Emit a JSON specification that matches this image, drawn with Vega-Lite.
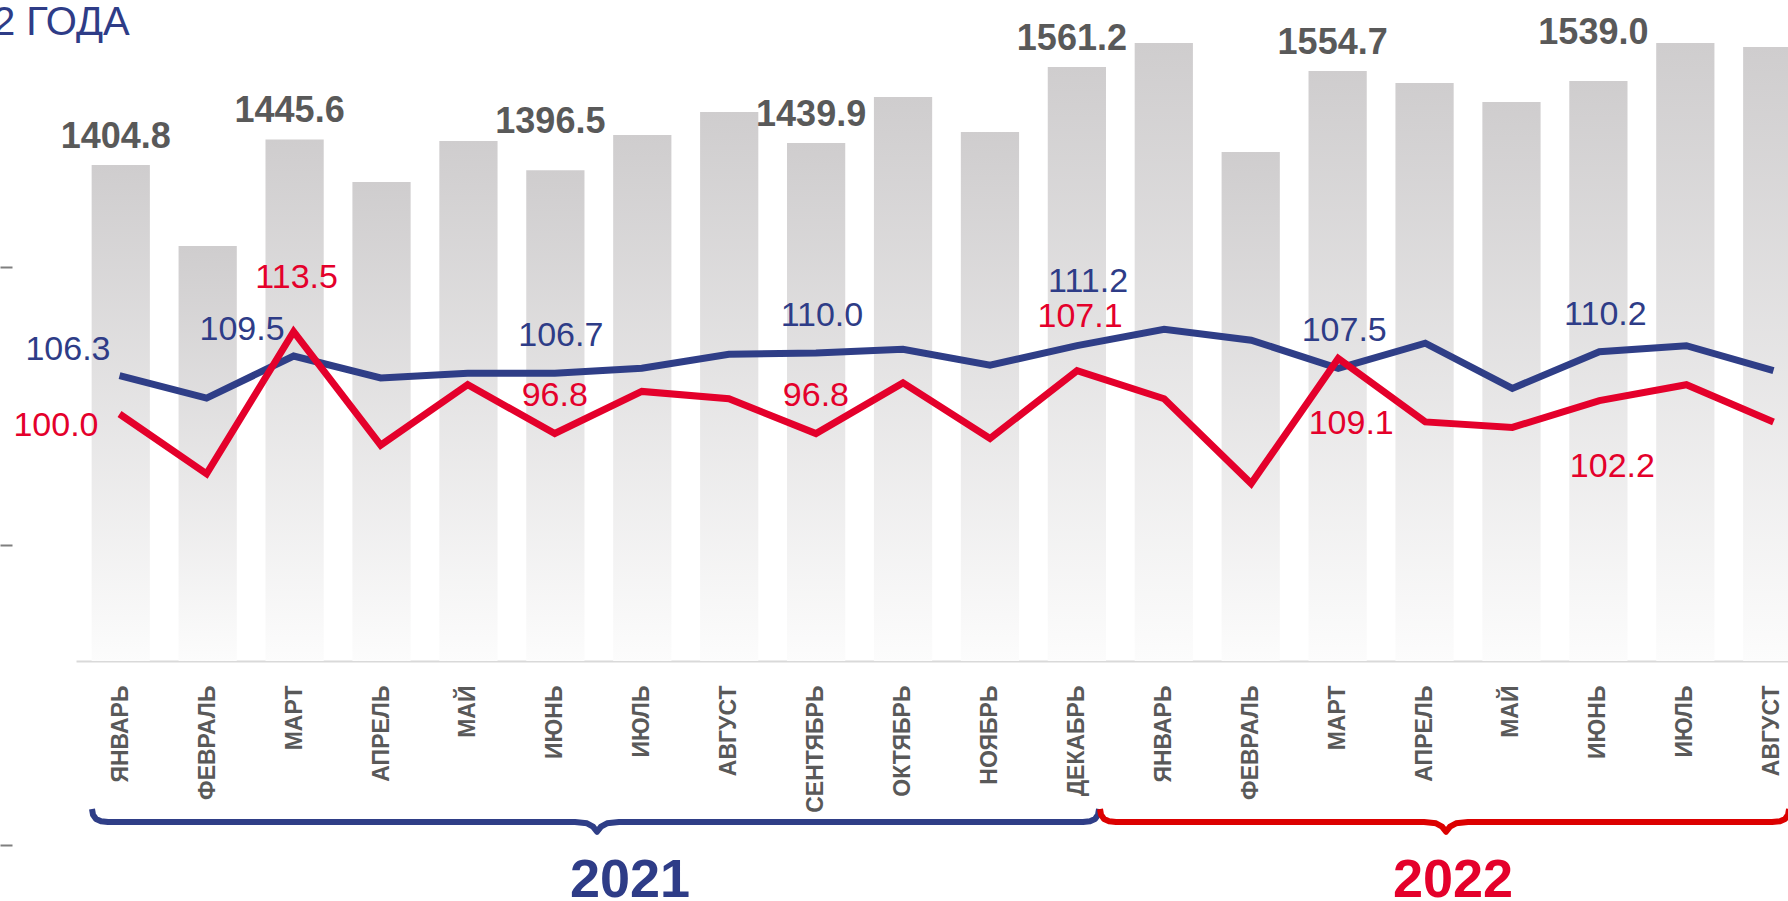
{
  "$schema": "https://vega.github.io/schema/vega-lite/v6.json",
  "autosize": {"type": "none"},
  "width": 1712,
  "height": 621,
  "padding": {"left": 76, "top": 40, "right": 0, "bottom": 240},
  "background": "white",
  "title": {"text": "2 ГОДА", "anchor": "start", "frame": "group", "dx": -83, "offset": -60, "baseline": "alphabetic", "font": "Liberation Sans", "fontSize": 40, "fontWeight": "normal", "color": "#2e3c87"},
  "config": {"view": {"stroke": null}, "font": "Liberation Sans"},
  "datasets": {
    "months": [
      {"date": "2021-01", "volume": 1404.8, "a": 106.3, "b": 100.0},
      {"date": "2021-02", "volume": 1275.5, "a": 102.6, "b": 90.2},
      {"date": "2021-03", "volume": 1445.6, "a": 109.5, "b": 113.5},
      {"date": "2021-04", "volume": 1377.7, "a": 105.9, "b": 94.9},
      {"date": "2021-05", "volume": 1443.1, "a": 106.7, "b": 104.8},
      {"date": "2021-06", "volume": 1396.5, "a": 106.7, "b": 96.8},
      {"date": "2021-07", "volume": 1452.7, "a": 107.5, "b": 103.7},
      {"date": "2021-08", "volume": 1489.4, "a": 109.8, "b": 102.5},
      {"date": "2021-09", "volume": 1439.9, "a": 110.0, "b": 96.8},
      {"date": "2021-10", "volume": 1513.3, "a": 110.6, "b": 105.1},
      {"date": "2021-11", "volume": 1457.5, "a": 108.0, "b": 96.0},
      {"date": "2021-12", "volume": 1561.2, "a": 111.2, "b": 107.1},
      {"date": "2022-01", "volume": 1599.5, "a": 113.9, "b": 102.5},
      {"date": "2022-02", "volume": 1425.5, "a": 112.1, "b": 88.6},
      {"date": "2022-03", "volume": 1554.7, "a": 107.5, "b": 109.1},
      {"date": "2022-04", "volume": 1535.7, "a": 111.6, "b": 98.7},
      {"date": "2022-05", "volume": 1505.3, "a": 104.2, "b": 97.8},
      {"date": "2022-06", "volume": 1539.0, "a": 110.2, "b": 102.2},
      {"date": "2022-07", "volume": 1599.5, "a": 111.2, "b": 104.8},
      {"date": "2022-08", "volume": 1593.1, "a": 107.1, "b": 98.7}
    ],
    "brace": [
      {"brace": "2021", "k": -0.3313, "level": 1},
      {"brace": "2021", "k": -0.3198, "level": 0.55},
      {"brace": "2021", "k": -0.2853, "level": 0.23},
      {"brace": "2021", "k": -0.2278, "level": 0.06},
      {"brace": "2021", "k": -0.1473, "level": 0},
      {"brace": "2021", "k": 5.2255, "level": 0},
      {"brace": "2021", "k": 5.3636, "level": -0.1},
      {"brace": "2021", "k": 5.4326, "level": -0.35},
      {"brace": "2021", "k": 5.4786, "level": -0.75},
      {"brace": "2021", "k": 5.5246, "level": -0.35},
      {"brace": "2021", "k": 5.5936, "level": -0.1},
      {"brace": "2021", "k": 5.7317, "level": 0},
      {"brace": "2021", "k": 11.0699, "level": 0},
      {"brace": "2021", "k": 11.1505, "level": 0.06},
      {"brace": "2021", "k": 11.2080, "level": 0.23},
      {"brace": "2021", "k": 11.2425, "level": 0.55},
      {"brace": "2021", "k": 11.2540, "level": 1},
      {"brace": "2022", "k": 11.2655, "level": 1},
      {"brace": "2022", "k": 11.2770, "level": 0.55},
      {"brace": "2022", "k": 11.3115, "level": 0.23},
      {"brace": "2022", "k": 11.3690, "level": 0.06},
      {"brace": "2022", "k": 11.4496, "level": 0},
      {"brace": "2022", "k": 14.9931, "level": 0},
      {"brace": "2022", "k": 15.1312, "level": -0.1},
      {"brace": "2022", "k": 15.2002, "level": -0.35},
      {"brace": "2022", "k": 15.2462, "level": -0.75},
      {"brace": "2022", "k": 15.2922, "level": -0.35},
      {"brace": "2022", "k": 15.3613, "level": -0.1},
      {"brace": "2022", "k": 15.4993, "level": 0},
      {"brace": "2022", "k": 18.9968, "level": 0},
      {"brace": "2022", "k": 19.0888, "level": 0.06},
      {"brace": "2022", "k": 19.1463, "level": 0.23},
      {"brace": "2022", "k": 19.1808, "level": 0.55},
      {"brace": "2022", "k": 19.1923, "level": 1}
    ]
  },
  "layer": [
    {
      "data": {"name": "months"},
      "encoding": {
        "x": {"field": "date", "type": "ordinal", "sort": null,
          "scale": {"range": [0, 1741], "paddingInner": 0.33, "paddingOuter": 0.18},
          "axis": {"title": null, "labelExpr": "['ЯНВАРЬ','ФЕВРАЛЬ','МАРТ','АПРЕЛЬ','МАЙ','ИЮНЬ','ИЮЛЬ','АВГУСТ','СЕНТЯБРЬ','ОКТЯБРЬ','НОЯБРЬ','ДЕКАБРЬ'][toNumber(slice(datum.value, 5)) - 1]",
            "labelAngle": -90, "labelAlign": "right", "labelBaseline": "middle", "labelFont": "Liberation Sans", "labelFontWeight": "bold", "labelFontSize": 23, "labelColor": "#595959",
            "ticks": false, "tickSize": 0, "labelPadding": 24, "domainColor": "#d9d9d9", "domainWidth": 2, "grid": false, "labelOverlap": false}
        },
        "y": {"field": "volume", "type": "quantitative",
          "scale": {"domain": [613.2, 1604.3], "nice": false, "zero": false},
          "axis": {"orient": "left", "title": null, "values": [798, 1242], "labels": false, "domain": false, "grid": false, "ticks": true, "tickSize": 12, "tickColor": "#7f7f7f", "tickWidth": 2, "offset": 64}
        }
      },
      "layer": [
        {"mark": {"type": "bar", "fill": {"gradient": "linear", "x1": 0, "y1": 0, "x2": 0, "y2": 1, "stops": [{"offset": 0, "color": "#cfcdce"}, {"offset": 1, "color": "#fcfcfc"}]}},
          "encoding": {"y2": {"datum": 613.2}}},
        {"transform": [{"filter": "indexof(['2021-01','2021-03','2021-09','2021-12','2022-03'], datum.date) >= 0"}],
          "mark": {"type": "text", "font": "Liberation Sans", "fontWeight": "bold", "fontSize": 36, "color": "#595959", "dx": -5, "dy": -17, "baseline": "alphabetic", "align": "center"},
          "encoding": {"text": {"field": "volume", "type": "quantitative", "format": ".1f"}}},
        {"transform": [{"filter": "indexof(['2021-06','2022-06'], datum.date) >= 0"}],
          "mark": {"type": "text", "font": "Liberation Sans", "fontWeight": "bold", "fontSize": 36, "color": "#595959", "dx": -5, "dy": -37, "baseline": "alphabetic", "align": "center"},
          "encoding": {"text": {"field": "volume", "type": "quantitative", "format": ".1f"}}}
      ]
    },
    {
      "data": {"name": "months"},
      "transform": [{"fold": ["a", "b"], "as": ["series", "val"]}],
      "encoding": {
        "x": {"field": "date", "type": "ordinal", "sort": null, "scale": {"range": [0, 1741], "paddingInner": 0.33, "paddingOuter": 0.18}, "axis": null},
        "y": {"field": "val", "type": "quantitative", "scale": {"domain": [59.51, 161.31], "nice": false, "zero": false}, "axis": null}
      },
      "layer": [
        {"mark": {"type": "line", "strokeWidth": 7, "strokeJoin": "miter"},
          "encoding": {"color": {"field": "series", "type": "nominal", "scale": {"domain": ["a", "b"], "range": ["#2f3e87", "#e4002b"]}, "legend": null}}},
        {"transform": [{"filter": "datum.series == 'a' && indexof(['2021-01','2021-03'], datum.date) >= 0"}],
          "mark": {"type": "text", "fontSize": 34, "color": "#2e3c87", "align": "right", "dx": -9, "dy": -16, "baseline": "alphabetic"},
          "encoding": {"text": {"field": "val", "type": "quantitative", "format": ".1f"}}},
        {"transform": [{"filter": "datum.series == 'a' && indexof(['2021-06','2021-09','2022-03','2022-06'], datum.date) >= 0"}],
          "mark": {"type": "text", "fontSize": 34, "color": "#2e3c87", "align": "center", "dx": 6, "dy": -27, "baseline": "alphabetic"},
          "encoding": {"text": {"field": "val", "type": "quantitative", "format": ".1f"}}},
        {"transform": [{"filter": "datum.series == 'a' && datum.date == '2021-12'"}],
          "mark": {"type": "text", "fontSize": 34, "color": "#2e3c87", "align": "center", "dx": 11, "dy": -54, "baseline": "alphabetic"},
          "encoding": {"text": {"field": "val", "type": "quantitative", "format": ".1f"}}},
        {"transform": [{"filter": "datum.series == 'b' && datum.date == '2021-01'"}],
          "mark": {"type": "text", "fontSize": 34, "color": "#e4002b", "align": "right", "dx": -21, "dy": 22, "baseline": "alphabetic"},
          "encoding": {"text": {"field": "val", "type": "quantitative", "format": ".1f"}}},
        {"transform": [{"filter": "datum.series == 'b' && indexof(['2021-06','2021-09'], datum.date) >= 0"}],
          "mark": {"type": "text", "fontSize": 34, "color": "#e4002b", "align": "center", "dx": 0, "dy": -28, "baseline": "alphabetic"},
          "encoding": {"text": {"field": "val", "type": "quantitative", "format": ".1f"}}},
        {"transform": [{"filter": "datum.series == 'b' && indexof(['2021-03','2021-12'], datum.date) >= 0"}],
          "mark": {"type": "text", "fontSize": 34, "color": "#e4002b", "align": "center", "dx": 3, "dy": -44, "baseline": "alphabetic"},
          "encoding": {"text": {"field": "val", "type": "quantitative", "format": ".1f"}}},
        {"transform": [{"filter": "datum.series == 'b' && indexof(['2022-03','2022-06'], datum.date) >= 0"}],
          "mark": {"type": "text", "fontSize": 34, "color": "#e4002b", "align": "center", "dx": 13, "dy": 76, "baseline": "alphabetic"},
          "encoding": {"text": {"field": "val", "type": "quantitative", "format": ".1f"}}}
      ]
    },
    {
      "data": {"name": "brace"},
      "encoding": {
        "x": {"field": "k", "type": "quantitative", "scale": {"domain": [-0.5154, 19.514], "range": [0, 1741], "nice": false, "zero": false}, "axis": null},
        "y": {"field": "level", "type": "quantitative", "scale": {"domain": [-2, 1], "range": [808, 769], "nice": false, "zero": false},
          "axis": {"orient": "left", "title": null, "values": [-1.77], "labels": false, "domain": false, "grid": false, "ticks": true, "tickSize": 12, "tickColor": "#7f7f7f", "tickWidth": 2, "offset": 64}}
      },
      "layer": [
        {"mark": {"type": "line", "strokeWidth": 6, "strokeCap": "butt", "strokeJoin": "round"},
          "encoding": {"color": {"field": "brace", "type": "nominal", "scale": {"domain": ["2021", "2022"], "range": ["#2f3e87", "#dc0000"]}, "legend": null}}},
        {"transform": [{"filter": "datum.brace == '2021' && datum.level < -0.5"}],
          "mark": {"type": "text", "font": "Liberation Sans", "fontWeight": "bold", "fontSize": 54, "color": "#2e3c87", "align": "center", "baseline": "alphabetic", "dx": 33, "dy": 65},
          "encoding": {"text": {"field": "brace"}}},
        {"transform": [{"filter": "datum.brace == '2022' && datum.level < -0.5"}],
          "mark": {"type": "text", "font": "Liberation Sans", "fontWeight": "bold", "fontSize": 54, "color": "#e4002b", "align": "center", "baseline": "alphabetic", "dx": 7, "dy": 65},
          "encoding": {"text": {"field": "brace"}}}
      ]
    }
  ],
  "resolve": {"scale": {"x": "independent", "y": "independent", "color": "independent"}, "axis": {"x": "independent", "y": "independent"}}
}
